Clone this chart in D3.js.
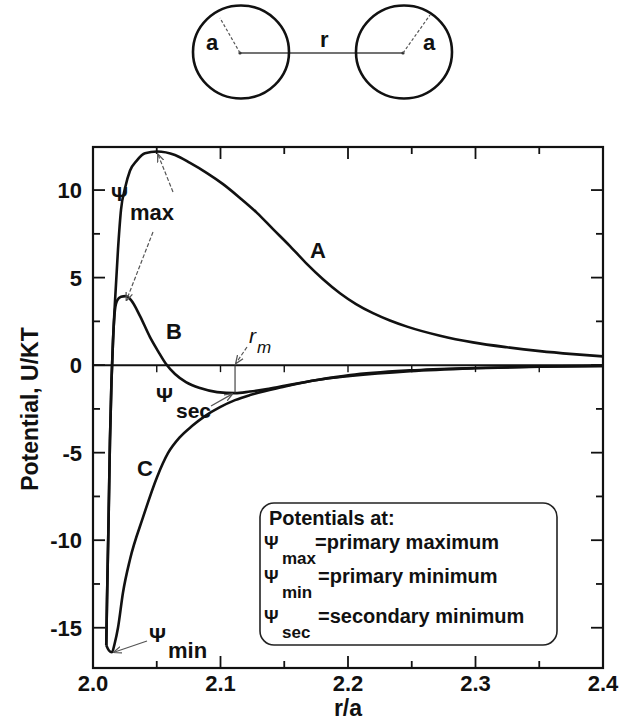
<!DOCTYPE html>
<html>
<head>
<meta charset="utf-8">
<script src="https://cdn.jsdelivr.net/npm/d3@7"></script>
<style>
  html, body { margin: 0; padding: 0; background: #fff; }
  svg { display: block; }
  text { font-family: "Liberation Sans", Arial, sans-serif; fill: #111; }
</style>
</head>
<body>
<svg id="chart" width="621" height="722"></svg>
<script>
// ---------- data ----------
const curveA = [
  [2.0104,-16.0],[2.0110,-13.4],[2.0122,-8.9],[2.0133,-4.3],[2.0145,-0.9],[2.0157,1.4],
  [2.0173,3.7],[2.0196,6.6],[2.0220,8.9],[2.0251,10.1],[2.0290,11.1],[2.0345,11.7],
  [2.0408,12.1],[2.0502,12.2],[2.0643,12.0],[2.0761,11.55],[2.0894,10.97],[2.1020,10.34],
  [2.1153,9.55],[2.1286,8.7],[2.1412,7.77],[2.1545,6.8],[2.1671,5.83],[2.1804,4.91],
  [2.1937,4.11],[2.2063,3.49],[2.2196,2.97],[2.2329,2.55],[2.2463,2.2],[2.2722,1.68],
  [2.2980,1.3],[2.3247,1.02],[2.3506,0.8],[2.3765,0.63],[2.4000,0.5]
];
const curveB = [
  [2.0104,-16.0],[2.0110,-13.4],[2.0122,-8.9],[2.0133,-4.3],[2.0145,-0.9],[2.0157,1.4],
  [2.0173,3.2],[2.0190,3.7],[2.0220,3.9],[2.0255,3.94],[2.0300,3.7],[2.0369,2.8],
  [2.0447,1.6],[2.0510,0.8],[2.0573,0.06],[2.0643,-0.51],[2.0729,-0.97],[2.0839,-1.31],
  [2.0973,-1.54],[2.1114,-1.6],[2.1231,-1.51],[2.1365,-1.37],[2.1490,-1.2],[2.1757,-0.85],
  [2.2016,-0.57],[2.2486,-0.3],[2.2996,-0.16],[2.3506,-0.08],[2.4000,-0.04]
];
const curveC = [
  [2.0104,-16.0],[2.0125,-16.3],[2.0149,-16.4],[2.0170,-15.9],[2.0196,-15.0],
  [2.0235,-13.0],[2.0290,-11.1],[2.0392,-8.7],[2.0502,-6.4],[2.0588,-5.03],[2.0682,-4.11],
  [2.0776,-3.48],[2.0878,-2.91],[2.0996,-2.4],[2.1114,-2.0],[2.1231,-1.71],[2.1490,-1.25],
  [2.1757,-0.85],[2.2016,-0.62],[2.2486,-0.34],[2.2996,-0.18],[2.3506,-0.09],[2.4000,-0.05]
];
const xMajorTicks = [2.0, 2.1, 2.2, 2.3, 2.4];
const xMinorTicks = [2.05, 2.15, 2.25, 2.35];
const yMajorTicks = [-15, -10, -5, 0, 5, 10];
const yMinorTicks = [-12.5, -7.5, -2.5, 2.5, 7.5];
const zeroLineTicks = [2.05, 2.1, 2.15, 2.2, 2.25, 2.3, 2.35];
const xDomain = [2.0, 2.4];
const yDomain = [-17.3, 12.46];
const legendLines = [
  {sym: "", sub: "", text: "Potentials at:"},
  {sym: "Ψ", sub: "max", text: "=primary maximum"},
  {sym: "Ψ", sub: "min", text: "=primary minimum"},
  {sym: "Ψ", sub: "sec", text: "=secondary minimum"}
];

// ---------- layout ----------
const svg = d3.select("#chart");
const L = 93, R = 603, T = 147, B = 668;
const x = d3.scaleLinear().domain(xDomain).range([L, R]);
const y = d3.scaleLinear().domain(yDomain).range([B, T]);

svg.append("defs").append("marker")
  .attr("id", "arr").attr("viewBox", "0 0 10 10").attr("refX", 9).attr("refY", 5)
  .attr("markerWidth", 7).attr("markerHeight", 7).attr("orient", "auto")
  .append("path").attr("d", "M0,1 L10,5 L0,9").attr("fill", "none")
  .attr("stroke", "#555").attr("stroke-width", 1.5);

// ---------- top schematic ----------
const schem = svg.append("g");
schem.append("line").attr("x1", 240).attr("y1", 53).attr("x2", 403).attr("y2", 53)
  .attr("stroke", "#444").attr("stroke-width", 1.6);
[[241, 52], [404, 52]].forEach(c => {
  schem.append("ellipse").attr("cx", c[0]).attr("cy", c[1]).attr("rx", 48).attr("ry", 46.5)
    .attr("fill", "none").attr("stroke", "#111").attr("stroke-width", 2.6);
  schem.append("circle").attr("cx", c[0] - 1).attr("cy", 53).attr("r", 1.6).attr("fill", "#333");
});
schem.append("line").attr("x1", 240).attr("y1", 53).attr("x2", 220).attr("y2", 18)
  .attr("stroke", "#555").attr("stroke-width", 1.2).attr("stroke-dasharray", "3,2");
schem.append("line").attr("x1", 403).attr("y1", 53).attr("x2", 430).attr("y2", 15)
  .attr("stroke", "#555").attr("stroke-width", 1.2).attr("stroke-dasharray", "3,2");
schem.append("text").attr("x", 206).attr("y", 50).attr("font-size", 22).attr("font-weight", "bold").text("a");
schem.append("text").attr("x", 423).attr("y", 50).attr("font-size", 22).attr("font-weight", "bold").text("a");
schem.append("text").attr("x", 320).attr("y", 47).attr("font-size", 22).attr("font-weight", "bold").text("r");

// ---------- frame & ticks ----------
const g = svg.append("g");
g.append("rect").attr("x", L).attr("y", T).attr("width", R - L).attr("height", B - T)
  .attr("fill", "none").attr("stroke", "#111").attr("stroke-width", 2.2);

const tk = g.append("g").attr("stroke", "#111").attr("stroke-width", 1.8);
xMajorTicks.slice(1, -1).forEach(v => {
  tk.append("line").attr("x1", x(v)).attr("x2", x(v)).attr("y1", B).attr("y2", B - 12);
  tk.append("line").attr("x1", x(v)).attr("x2", x(v)).attr("y1", T).attr("y2", T + 12);
});
xMinorTicks.forEach(v => {
  tk.append("line").attr("x1", x(v)).attr("x2", x(v)).attr("y1", B).attr("y2", B - 7);
  tk.append("line").attr("x1", x(v)).attr("x2", x(v)).attr("y1", T).attr("y2", T + 7);
});
yMajorTicks.forEach(v => {
  tk.append("line").attr("x1", L).attr("x2", L + 12).attr("y1", y(v)).attr("y2", y(v));
  tk.append("line").attr("x1", R).attr("x2", R - 12).attr("y1", y(v)).attr("y2", y(v));
});
yMinorTicks.forEach(v => {
  tk.append("line").attr("x1", L).attr("x2", L + 7).attr("y1", y(v)).attr("y2", y(v));
  tk.append("line").attr("x1", R).attr("x2", R - 7).attr("y1", y(v)).attr("y2", y(v));
});

// zero line with its ticks
g.append("line").attr("x1", L).attr("x2", R).attr("y1", y(0)).attr("y2", y(0))
  .attr("stroke", "#111").attr("stroke-width", 2);
zeroLineTicks.forEach(v => {
  tk.append("line").attr("x1", x(v)).attr("x2", x(v)).attr("y1", y(0)).attr("y2", y(0) + 7)
    .attr("stroke-width", 1.4);
});

// tick labels
xMajorTicks.forEach(v => {
  g.append("text").attr("x", x(v)).attr("y", B + 23).attr("text-anchor", "middle")
    .attr("font-size", 22).attr("font-weight", "bold").text(v.toFixed(1));
});
yMajorTicks.forEach(v => {
  g.append("text").attr("x", 82).attr("y", y(v) + 8).attr("text-anchor", "end")
    .attr("font-size", 22).attr("font-weight", "bold").text(String(v));
});
g.append("text").attr("x", 348).attr("y", 716).attr("text-anchor", "middle")
  .attr("font-size", 23).attr("font-weight", "bold").text("r/a");
g.append("text").attr("transform", "translate(38,409) rotate(-90)").attr("text-anchor", "middle")
  .attr("font-size", 23).attr("font-weight", "bold").text("Potential, U/KT");

// ---------- curves ----------
const line = d3.line().x(d => x(d[0])).y(d => y(d[1])).curve(d3.curveMonotoneX);
[curveA, curveB, curveC].forEach(c => {
  g.append("path").datum(c).attr("d", line).attr("fill", "none")
    .attr("stroke", "#111").attr("stroke-width", 2.6).attr("stroke-linejoin", "round");
});

// curve labels
const lab = (txt, px, py, fs) => g.append("text").attr("x", px).attr("y", py)
  .attr("font-size", fs).attr("font-weight", "bold").text(txt);
lab("A", 310, 258, 22);
lab("B", 166, 339, 22);
lab("C", 137, 476, 22);

// ---------- annotations ----------
const peakA = curveA.reduce((a, b) => b[1] > a[1] ? b : a);
const peakB = curveB.reduce((a, b) => b[1] > a[1] ? b : a);
const minC = curveC.reduce((a, b) => b[1] < a[1] ? b : a);
const secB = curveB.filter(d => d[0] > 2.06).reduce((a, b) => b[1] < a[1] ? b : a);
const rM = secB[0];

const ann = g.append("g");
const arrow = (x1, y1, x2, y2, dash) => ann.append("line")
  .attr("x1", x1).attr("y1", y1).attr("x2", x2).attr("y2", y2)
  .attr("stroke", "#555").attr("stroke-width", 1.2)
  .attr("stroke-dasharray", dash ? "4,2" : null).attr("marker-end", "url(#arr)");

lab("Ψ", 111, 201, 21);
lab("max", 130, 220, 22);
arrow(173, 192, x(peakA[0]) + 1, y(peakA[1]) + 3, true);
arrow(153, 232, x(peakB[0]) + 1, y(peakB[1]) + 4, true);

lab("Ψ", 156, 402, 21);
lab("sec", 176, 418, 21);
arrow(211, 406, x(rM) - 3, y(secB[1]) + 1, false);

lab("Ψ", 149, 642, 21);
lab("min", 168, 658, 22);
arrow(147, 641, x(minC[0]) + 2, y(minC[1]), false);

// r_m marker
ann.append("line").attr("x1", x(rM)).attr("x2", x(rM)).attr("y1", y(0)).attr("y2", y(secB[1]))
  .attr("stroke", "#333").attr("stroke-width", 1.1);
arrow(247, 347, x(rM) + 1, y(0) - 2, true);
g.append("text").attr("x", 249).attr("y", 343).attr("font-size", 21).attr("font-style", "italic").text("r");
g.append("text").attr("x", 257).attr("y", 353).attr("font-size", 17).attr("font-style", "italic").text("m");

// ---------- legend box ----------
const lg = g.append("g");
lg.append("rect").attr("x", 260).attr("y", 503).attr("width", 297).attr("height", 142)
  .attr("rx", 14).attr("fill", "#fff").attr("stroke", "#222").attr("stroke-width", 1.6);
const lgBase = [525, 549, 583, 623];
legendLines.forEach((d, i) => {
  if (!d.sym) {
    lg.append("text").attr("x", 269).attr("y", lgBase[i]).attr("font-size", 20)
      .attr("font-weight", "bold").text(d.text);
  } else {
    lg.append("text").attr("x", 264).attr("y", lgBase[i]).attr("font-size", 18)
      .attr("font-weight", "bold").text(d.sym);
    lg.append("text").attr("x", 282).attr("y", lgBase[i] + 15).attr("font-size", 17)
      .attr("font-weight", "bold").text(d.sub);
    lg.append("text").attr("x", i === 1 ? 315 : 318).attr("y", lgBase[i]).attr("font-size", 20)
      .attr("font-weight", "bold").text(d.text);
  }
});
</script>
</body>
</html>
